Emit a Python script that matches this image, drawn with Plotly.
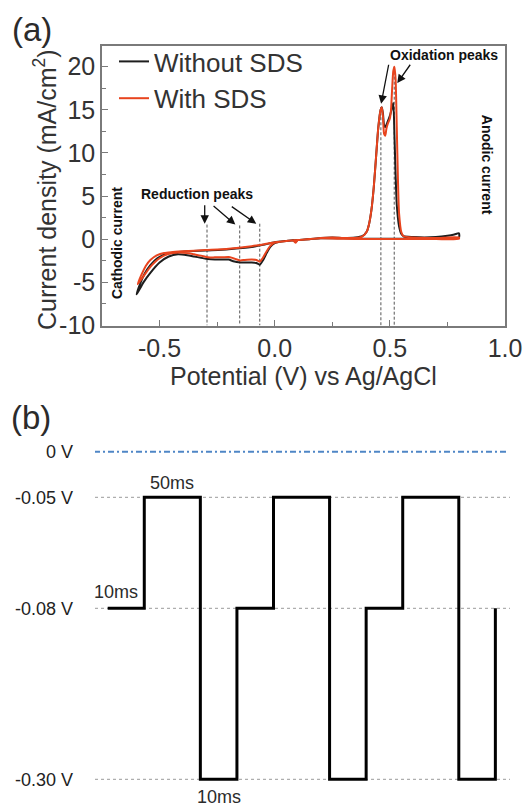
import numpy as np
import plotly.graph_objects as go

# ---------------- (a) cyclic voltammograms ----------------
pot_without = [-0.600, -0.585, -0.565, -0.54, -0.51, -0.48, -0.45, -0.40, -0.30, -0.20, -0.10, -0.05,
               0.00, 0.05, 0.08, 0.09, 0.10, 0.15, 0.20, 0.25, 0.30, 0.35, 0.38, 0.40, 0.41, 0.42, 0.43,
               0.44, 0.45, 0.46, 0.465, 0.47, 0.475, 0.48, 0.49, 0.50, 0.51, 0.515, 0.52, 0.525, 0.53,
               0.54, 0.55, 0.56, 0.60, 0.65, 0.70, 0.75, 0.78, 0.80,
               0.80, 0.70, 0.60, 0.50, 0.40, 0.30, 0.20, 0.10, 0.05, 0.02, 0.00, -0.02, -0.035, -0.05,
               -0.065, -0.08, -0.10, -0.13, -0.15, -0.18, -0.20, -0.23, -0.26, -0.29, -0.32, -0.35,
               -0.38, -0.42, -0.46, -0.50, -0.54, -0.57, -0.60]
cur_without = [-6.4, -5.2, -4.0, -3.0, -2.2, -1.8, -1.6, -1.45, -1.3, -1.15, -0.9, -0.65,
               -0.35, -0.2, -0.12, -0.3, -0.1, 0.0, 0.15, 0.2, 0.15, 0.2, 0.35, 0.9, 1.8, 3.4, 6.0,
               9.5, 13.0, 15.0, 15.3, 14.6, 13.2, 13.0, 13.6, 14.3, 15.3, 15.8, 12.0, 7.5, 4.0,
               1.5, 0.6, 0.35, 0.25, 0.2, 0.25, 0.4, 0.55, 0.7,
               0.2, 0.1, 0.05, 0.05, 0.05, 0.1, 0.1, -0.1, -0.2, -0.3, -0.45, -0.9, -1.6, -2.4,
               -2.95, -2.75, -2.7, -2.7, -2.7, -2.55, -2.35, -2.35, -2.35, -2.3, -2.15, -2.0,
               -1.85, -1.75, -2.0, -2.7, -3.9, -5.0, -6.4]

pot_with = [-0.595, -0.58, -0.56, -0.54, -0.51, -0.48, -0.45, -0.40, -0.30, -0.20, -0.10, -0.05,
            0.00, 0.05, 0.08, 0.09, 0.10, 0.15, 0.20, 0.25, 0.30, 0.35, 0.38, 0.40, 0.41, 0.42, 0.43,
            0.44, 0.45, 0.46, 0.465, 0.47, 0.475, 0.48, 0.485, 0.49, 0.50, 0.505, 0.51, 0.515, 0.52,
            0.525, 0.53, 0.535, 0.54, 0.55, 0.56, 0.60, 0.70, 0.80,
            0.80, 0.70, 0.60, 0.50, 0.40, 0.30, 0.20, 0.10, 0.05, 0.02, 0.00, -0.02, -0.035, -0.05,
            -0.065, -0.08, -0.10, -0.13, -0.15, -0.18, -0.20, -0.23, -0.26, -0.29, -0.32, -0.35,
            -0.38, -0.42, -0.46, -0.50, -0.54, -0.57, -0.595]
cur_with = [-5.2, -4.2, -3.1, -2.4, -1.85, -1.6, -1.5, -1.4, -1.25, -1.1, -0.8, -0.6,
            -0.35, -0.2, -0.15, -0.4, -0.1, 0.0, 0.15, 0.2, 0.15, 0.15, 0.3, 0.9, 1.8, 3.4, 6.0,
            9.5, 13.0, 15.0, 15.3, 14.2, 12.2, 12.0, 12.8, 13.3, 14.0, 15.0, 17.5, 19.5, 20.0,
            18.5, 13.0, 7.0, 3.0, 0.8, 0.35, 0.2, 0.15, 0.2,
            0.05, 0.02, 0.02, 0.02, 0.02, 0.05, 0.1, -0.1, -0.2, -0.3, -0.4, -0.8, -1.4, -2.1,
            -2.6, -2.4, -2.35, -2.4, -2.45, -2.2, -2.05, -2.1, -2.1, -2.1, -1.9, -1.75,
            -1.6, -1.55, -1.7, -2.2, -3.2, -4.3, -5.2]

# marker lines for peaks: potential and current of each peak
peak_pot = [-0.294, -0.152, -0.065, 0.461, 0.519]
peak_top = [1.7, 1.6, 1.8, 15.3, 20.0]

# ---------------- (b) pulse waveform ----------------
level_volts = [0.0, -0.05, -0.08, -0.30]
level_labels = ["0 V", "-0.05 V", "-0.08 V", "-0.30 V"]
pulse_levels = [-0.08, -0.05, -0.30, -0.08, -0.05, -0.30, -0.08, -0.05, -0.30]
pulse_ms = [10, 50, 10, 10, 50, 10, 10, 50, 10]

BLACK = "#1e1e1e"
RED = "#e8441e"
TXT = "#2b2b2b"
FONT = "Liberation Sans, Arial, sans-serif"

# page body has an 8px margin: the figure is placed at (8, 8)
OFF = 8
W, H = 524, 800
def PX(x):
    return (x - OFF) / W
def PY(y):
    return 1 - (y - OFF) / H

fig = go.Figure()

# dashed peak markers
for p, t in zip(peak_pot, peak_top):
    fig.add_trace(go.Scatter(x=[p, p], y=[t, -10], mode="lines", showlegend=False,
                             line=dict(color="#555555", width=1, dash="3px,2px"),
                             xaxis="x", yaxis="y", hoverinfo="skip"))

fig.add_trace(go.Scatter(x=pot_without, y=cur_without, mode="lines", name="Without SDS",
                         line=dict(color=BLACK, width=2, shape="spline", smoothing=0.6),
                         xaxis="x", yaxis="y"))
fig.add_trace(go.Scatter(x=pot_with, y=cur_with, mode="lines", name="With SDS",
                         line=dict(color=RED, width=2, shape="spline", smoothing=0.6),
                         xaxis="x", yaxis="y"))

# ---- (b) schematic (not to scale) ----
# schematic vertical scale: voltage -> display coordinate (piecewise, as in the drawing)
anch_v = [-0.30, -0.08, -0.05, 0.0]
anch_d = [-327.6, -156.6, -45.6, 0.0]
def ydisp(v):
    return float(np.interp(v, anch_v, anch_d))
# schematic horizontal scale: segment width grows weakly with duration
def seg_w(ms):
    return 31.7 + 0.4875 * ms

x0 = 12.7
xs = [x0]
for ms in pulse_ms:
    xs.append(xs[-1] + seg_w(ms))
ys = [ydisp(v) for v in pulse_levels] + [ydisp(-0.08)]

# reference lines
fig.add_trace(go.Scatter(x=[-1, 413], y=[ydisp(0.0)] * 2, mode="lines", showlegend=False,
                         line=dict(color="#4f86c6", width=2, dash="6px,3px,2px,3px"),
                         xaxis="x2", yaxis="y2", hoverinfo="skip"))
for v in level_volts[1:]:
    fig.add_trace(go.Scatter(x=[0, 416], y=[ydisp(v)] * 2, mode="lines", showlegend=False,
                             line=dict(color="#9a9a9a", width=1, dash="dot"),
                             xaxis="x2", yaxis="y2", hoverinfo="skip"))

fig.add_trace(go.Scatter(x=xs, y=ys, mode="lines", showlegend=False,
                         line=dict(color="#000000", width=3, shape="hv"),
                         xaxis="x2", yaxis="y2", hoverinfo="skip"))

ann = []
# (b) duration labels
ann.append(dict(x=(xs[1] + xs[2]) / 2, y=ydisp(-0.05), xref="x2", yref="y2", text="50ms",
                showarrow=False, yshift=14, font=dict(size=18, color=TXT, family=FONT)))
ann.append(dict(x=(xs[0] + xs[1]) / 2, y=ydisp(-0.08), xref="x2", yref="y2", text="10ms",
                showarrow=False, xshift=-10, yshift=16, font=dict(size=18, color=TXT, family=FONT)))
ann.append(dict(x=(xs[2] + xs[3]) / 2, y=ydisp(-0.30), xref="x2", yref="y2", text="10ms",
                showarrow=False, yshift=-18, font=dict(size=18, color=TXT, family=FONT)))

# (a) annotations
bold = dict(size=14, color="#111111", family=FONT)
ann.append(dict(x=-0.336, y=5.25, xref="x", yref="y", text="<b>Reduction peaks</b>",
                showarrow=False, font=bold))
ann.append(dict(x=0.735, y=21.3, xref="x", yref="y", text="<b>Oxidation peaks</b>",
                showarrow=False, font=bold))
ann.append(dict(x=0.923, y=8.6, xref="x", yref="y", text="<b>Anodic current</b>",
                showarrow=False, textangle=90, font=bold))
ann.append(dict(x=-0.685, y=-0.45, xref="x", yref="y", text="<b>Cathodic current</b>",
                showarrow=False, textangle=-90, font=bold))
arrows = [(-0.304, 4.1, -0.304, 1.8), (-0.272, 4.0, -0.171, 1.7), (-0.193, 3.9, -0.08, 1.8),
          (0.496, 20.4, 0.462, 15.7), (0.593, 20.4, 0.532, 18.1)]
for (sx, sy, ex, ey) in arrows:
    ann.append(dict(x=ex, y=ey, ax=sx, ay=sy, xref="x", yref="y", axref="x", ayref="y",
                    text="", showarrow=True, arrowhead=2, arrowsize=1.3, arrowwidth=1.3,
                    arrowcolor="#111111", standoff=0))

# axis titles of (a)
ann.append(dict(x=PX(45), y=PY(190), xref="paper", yref="paper", xanchor="center",
                yanchor="middle", text="Current density (mA/cm<sup>2</sup>)", textangle=-90,
                showarrow=False, font=dict(size=25, color="#333333", family=FONT)))
ann.append(dict(x=PX(303), y=PY(376), xref="paper", yref="paper", xanchor="center",
                yanchor="middle", text="Potential (V) vs Ag/AgCl",
                showarrow=False, font=dict(size=25, color="#333333", family=FONT)))

# panel letters
ann.append(dict(x=PX(32), y=PY(30), xref="paper", yref="paper", xanchor="center",
                yanchor="middle", text="(a)", showarrow=False,
                font=dict(size=33, color=TXT, family=FONT)))
ann.append(dict(x=PX(31), y=PY(417), xref="paper", yref="paper", xanchor="center",
                yanchor="middle", text="(b)", showarrow=False,
                font=dict(size=33, color=TXT, family=FONT)))

axis_common = dict(showline=True, linecolor="#7a7a7a", linewidth=1.5, mirror=True,
                   ticks="inside", ticklen=6, tickcolor="#7a7a7a", tickwidth=1,
                   showgrid=False, zeroline=False, automargin=False,
                   tickfont=dict(size=25, color="#333333", family=FONT))

fig.update_layout(
    width=W, height=H, margin=dict(l=0, r=0, t=0, b=0),
    paper_bgcolor="white", plot_bgcolor="white",
    font=dict(family=FONT, color=TXT),
    showlegend=True,
    legend=dict(x=PX(114), y=PY(38), xanchor="left", yanchor="top",
                bgcolor="rgba(0,0,0,0)", font=dict(size=26, color="#333333", family=FONT),
                itemwidth=30, tracegroupgap=0),
    xaxis=dict(domain=[PX(102), PX(505)], range=[-0.75, 1.0], anchor="y",
               tickmode="array", tickvals=[-0.5, 0.0, 0.5, 1.0],
               ticktext=["-0.5", "0.0", "0.5", "1.0"],
               minor=dict(ticks="inside", ticklen=4, tickcolor="#7a7a7a",
                          tickmode="array", tickvals=[-0.25, 0.25, 0.75]),
               **axis_common),
    yaxis=dict(domain=[PY(325.5), PY(46)], range=[-10, 22.4], anchor="x",
               tickmode="array", tickvals=[-10, -5, 0, 5, 10, 15, 20],
               ticktext=["-10", "-5", "0", "5", "10", "15", "20"],
               minor=dict(ticks="inside", ticklen=4, tickcolor="#7a7a7a",
                          tickmode="array", tickvals=[-7.5, -2.5, 2.5, 7.5, 12.5, 17.5]),
               **axis_common),
    xaxis2=dict(domain=[PX(95), PX(510)], range=[0, 415], anchor="y2", visible=False,
                automargin=False),
    yaxis2=dict(domain=[PY(795), PY(440)], range=[-343.3, 11.7], anchor="x2",
                showline=False, showgrid=False, zeroline=False, ticks="",
                tickmode="array", tickvals=[ydisp(v) for v in level_volts],
                ticktext=level_labels, ticklabelstandoff=21, automargin=False,
                tickfont=dict(size=18, color="#222222", family=FONT)),
    annotations=ann,
)

fig.write_html("out.html")
